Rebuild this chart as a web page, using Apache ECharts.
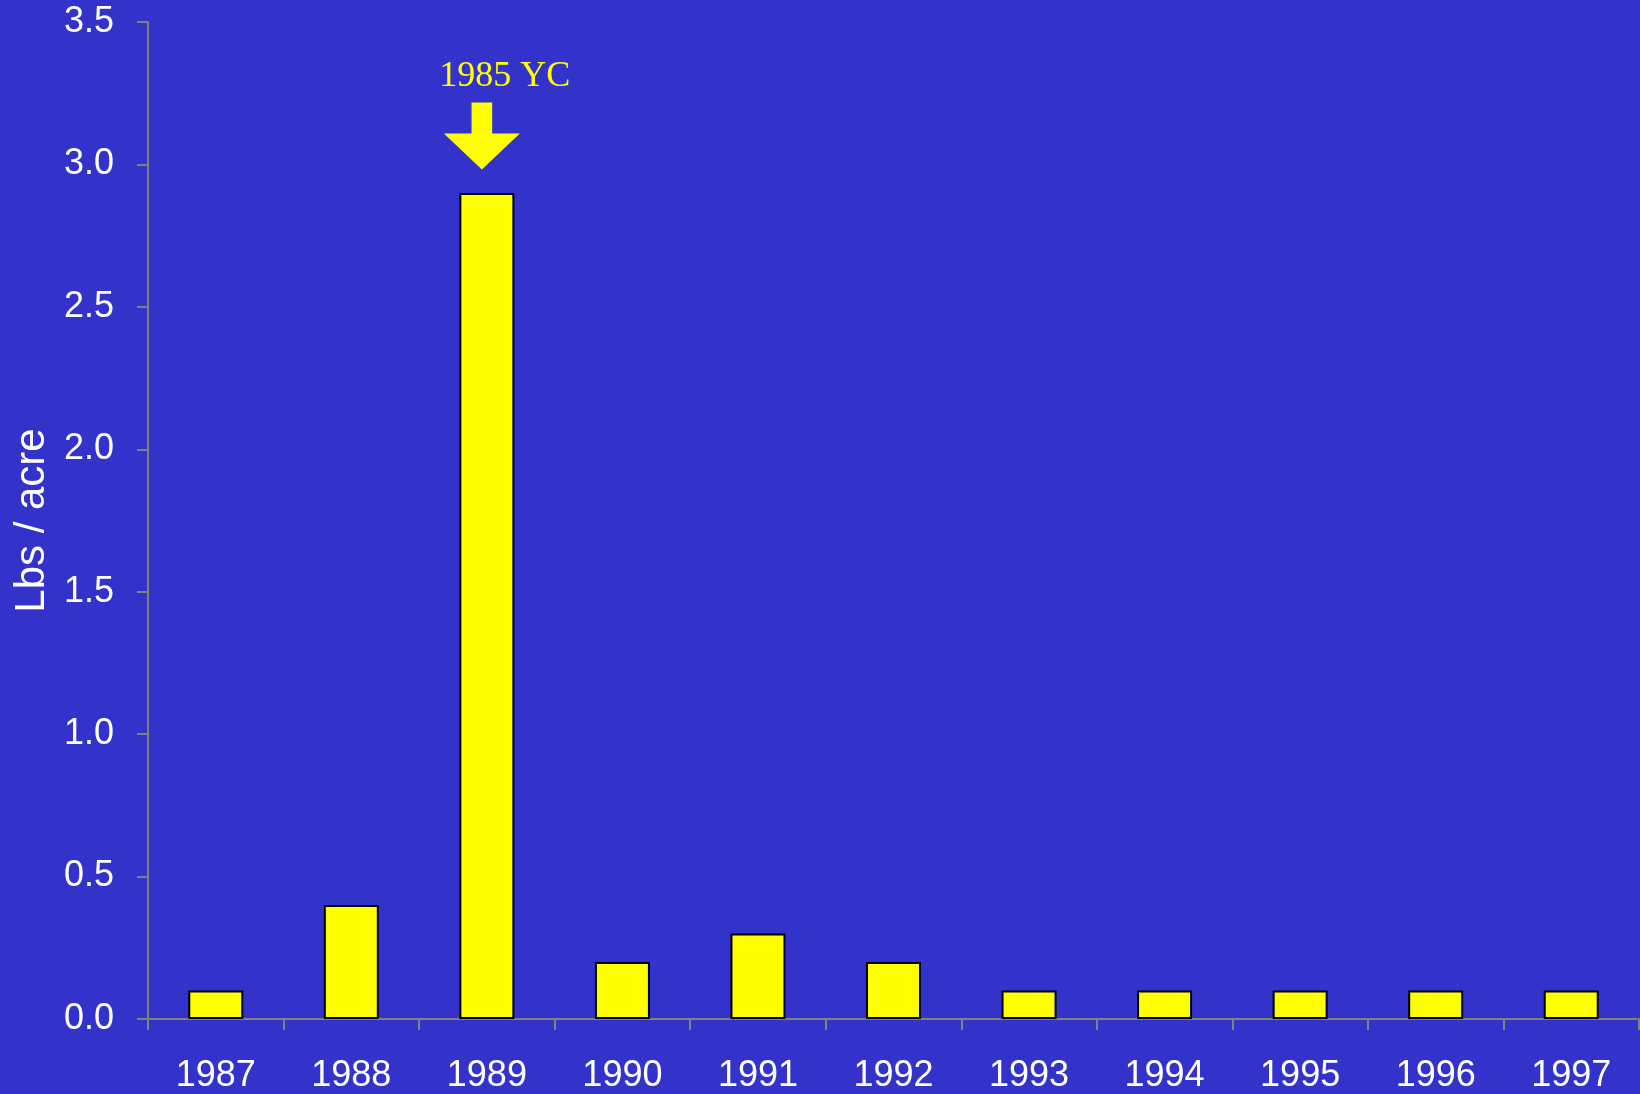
<!DOCTYPE html>
<html>
<head>
<meta charset="utf-8">
<style>
  html, body { margin: 0; padding: 0; background: #3333CC; }
  #chart { width: 1640px; height: 1094px; }
</style>
<script src="https://cdn.jsdelivr.net/npm/echarts@6/dist/echarts.min.js"></script>
</head>
<body>
<div id="chart"></div>
<script>
// Data
const categories = ['1987', '1988', '1989', '1990', '1991', '1992', '1993', '1994', '1995', '1996', '1997'];
const lbsPerAcre = [0.1, 0.4, 2.9, 0.2, 0.3, 0.2, 0.1, 0.1, 0.1, 0.1, 0.1];
const yTicks = [0, 0.5, 1.0, 1.5, 2.0, 2.5, 3.0, 3.5];
const axisName = 'Lbs / acre';
const annotationText = '1985 YC';
const annotationCategory = '1989';
const arrowValue = 3.1;
const textValue = 3.31;

const chart = echarts.init(document.getElementById('chart'));
const arrowPath = 'path://M27.7,0 L48.3,0 L48.3,31 L76,31 L38,67 L0,31 L27.7,31 Z';

chart.setOption({
  backgroundColor: '#3333CC',
  animation: false,
  grid: { left: 148, right: 1, top: 22, bottom: 73, containLabel: false },
  xAxis: {
    type: 'category',
    data: categories,
    boundaryGap: true,
    axisLine: { lineStyle: { color: '#808080', width: 2 } },
    axisTick: { show: true, alignWithLabel: false, length: 11, lineStyle: { color: '#808080', width: 2 } },
    axisLabel: { color: '#ffffff', fontFamily: 'Liberation Sans, Arial, sans-serif', fontSize: 36, margin: 39 },
    splitLine: { show: false }
  },
  yAxis: {
    type: 'value',
    min: yTicks[0],
    max: yTicks[yTicks.length - 1],
    interval: 0.5,
    name: axisName,
    nameLocation: 'middle',
    nameGap: 93,
    nameRotate: 90,
    nameTextStyle: { color: '#ffffff', fontFamily: 'Liberation Sans, Arial, sans-serif', fontSize: 42 },
    axisLine: { show: true, lineStyle: { color: '#808080', width: 2 } },
    axisTick: { show: true, length: 11, lineStyle: { color: '#808080', width: 2 } },
    axisLabel: {
      color: '#ffffff', fontFamily: 'Liberation Sans, Arial, sans-serif', fontSize: 36, margin: 34,
      formatter: v => v.toFixed(1)
    },
    splitLine: { show: false }
  },
  series: [{
    type: 'bar',
    data: lbsPerAcre,
    barWidth: 55,
    itemStyle: { color: '#FFFF00', borderColor: '#000000', borderWidth: 2 },
    markPoint: {
      silent: true,
      data: [
        {
          coord: [annotationCategory, arrowValue],
          symbol: arrowPath,
          symbolSize: [76, 67],
          symbolKeepAspect: false,
          symbolOffset: [-5, 0],
          itemStyle: { color: '#FFFF00', borderWidth: 0 },
          label: { show: false }
        },
        {
          coord: [annotationCategory, textValue],
          symbol: 'circle',
          symbolSize: 0,
          itemStyle: { color: 'rgba(0,0,0,0)' },
          label: {
            show: true,
            position: 'inside',
            offset: [18, 0],
            formatter: annotationText,
            color: '#FFFF00',
            fontFamily: 'Liberation Serif, Times New Roman, serif',
            fontSize: 36
          }
        }
      ]
    }
  }]
});
</script>
</body>
</html>
